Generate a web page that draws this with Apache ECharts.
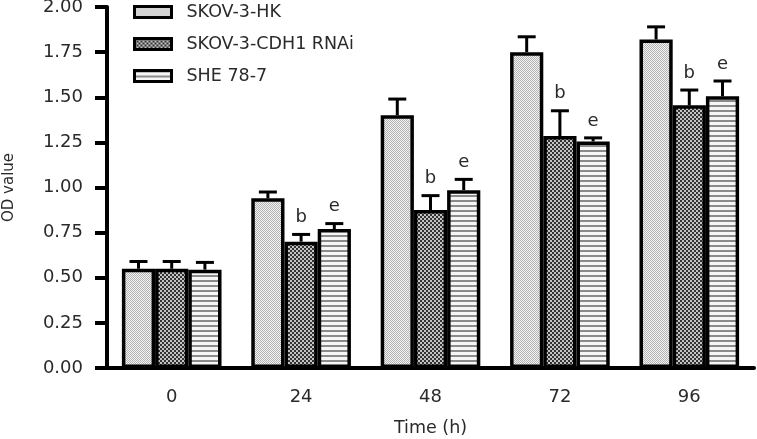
<!DOCTYPE html>
<html>
<head>
<meta charset="utf-8">
<script src="https://cdn.jsdelivr.net/npm/echarts@6/dist/echarts.min.js"></script>
<style>html,body{margin:0;padding:0;background:#fff}#c{width:757px;height:439px}</style>
</head>
<body>
<div id="c"></div>
<script>
const categories = ['0', '24', '48', '72', '96'];
const seriesNames = ['SKOV-3-HK', 'SKOV-3-CDH1 RNAi', 'SHE 78-7'];
const hkValues = [0.55, 0.94, 1.40, 1.75, 1.82];
const hkErrors = [0.04, 0.035, 0.09, 0.085, 0.07];
const cdh1Values = [0.55, 0.70, 0.875, 1.285, 1.455];
const cdh1Errors = [0.04, 0.04, 0.08, 0.14, 0.085];
const sheValues = [0.545, 0.77, 0.985, 1.255, 1.505];
const sheErrors = [0.04, 0.03, 0.06, 0.02, 0.085];
const hkMarks = ['', '', '', '', ''];
const cdh1Marks = ['', 'b', 'b', 'b', 'b'];
const sheMarks = ['', 'e', 'e', 'e', 'e'];

const FONT = '"DejaVu Sans", "Liberation Sans", sans-serif';
const TXT = '#2a2a2a';
const GAP = 0.23;

function makePattern(w, h, draw) {
  const c = document.createElement('canvas');
  c.width = w; c.height = h;
  const ctx = c.getContext('2d');
  draw(ctx);
  return { image: c, repeat: 'repeat' };
}
const pat1 = makePattern(2, 2, ctx => {
  ctx.fillStyle = '#f2f2f2'; ctx.fillRect(0, 0, 2, 2);
  ctx.fillStyle = '#b4b4b4'; ctx.fillRect(0, 0, 1, 1); ctx.fillRect(1, 1, 1, 1);
});
const pat2 = makePattern(4, 4, ctx => {
  ctx.fillStyle = '#c4c4c4'; ctx.fillRect(0, 0, 4, 4);
  ctx.fillStyle = '#333'; ctx.fillRect(0, 0, 2, 2); ctx.fillRect(2, 2, 2, 2);
});
const pat3 = makePattern(4, 5, ctx => {
  ctx.fillStyle = '#f6f6f6'; ctx.fillRect(0, 0, 4, 5);
  ctx.fillStyle = '#8a8a8a'; ctx.fillRect(0, 0, 4, 2);
});
const patterns = [pat1, pat2, pat3];

function barSeries(idx, values) {
  return {
    name: seriesNames[idx], type: 'bar', data: values,
    barGap: '0%', barCategoryGap: (GAP * 100) + '%',
    itemStyle: { color: patterns[idx], borderColor: '#000', borderWidth: 3.5 },
    z: 2
  };
}

function errSeries(idx, values, errors, marks) {
  return {
    type: 'custom', name: 'err' + idx, z: 5,
    data: values.map((v, i) => [i, v, errors[i]]),
    encode: { x: 0, y: 1 },
    renderItem: function (params, api) {
      const ci = api.value(0), v = api.value(1), e = api.value(2);
      const base = api.coord([ci, v]);
      const top = api.coord([ci, v + e]);
      const band = api.size([1, 0])[0];
      const bw = band * (1 - GAP) / 3;
      const x = base[0] + (idx - 1) * bw;
      const st = { stroke: '#000', lineWidth: 3 };
      const children = [
        { type: 'line', shape: { x1: x, y1: base[1], x2: x, y2: top[1] }, style: st },
        { type: 'line', shape: { x1: x - 9, y1: top[1], x2: x + 9, y2: top[1] }, style: st }
      ];
      const m = marks[params.dataIndex];
      if (m) {
        children.push({ type: 'text', x: x, y: top[1] - 17,
          style: { text: m, fill: TXT, font: '18px ' + FONT, align: 'center', verticalAlign: 'middle' } });
      }
      return { type: 'group', children: children };
    }
  };
}

const chart = echarts.init(document.getElementById('c'), null, { renderer: 'canvas' });
chart.setOption({
  animation: false,
  backgroundColor: '#fff',
  textStyle: { fontFamily: FONT },
  grid: { left: 107, right: 3, top: 7, bottom: 71, containLabel: false, outerBoundsMode: 'none' },
  legend: {
    data: seriesNames, orient: 'vertical', left: 128, top: -2,
    icon: 'rect',
    itemWidth: 37, itemHeight: 11, itemGap: 14,
    itemStyle: { borderColor: '#000', borderWidth: 3 },
    textStyle: { fontFamily: FONT, fontSize: 17.5, color: TXT, lineHeight: 16, padding: [0, 0, 0, 10] }
  },
  xAxis: {
    type: 'category', data: categories,
    name: 'Time (h)', nameLocation: 'middle', nameGap: 51,
    nameTextStyle: { fontFamily: FONT, fontSize: 17.5, color: TXT },
    axisLine: { lineStyle: { color: '#000', width: 4 } },
    axisTick: { alignWithLabel: true, length: 11, lineStyle: { color: '#000', width: 4 } },
    axisLabel: { margin: 20, fontFamily: FONT, fontSize: 18, color: TXT }
  },
  yAxis: {
    type: 'value', min: 0, max: 2, interval: 0.25,
    name: 'OD value', nameLocation: 'middle', nameGap: 90,
    nameTextStyle: { fontFamily: FONT, fontSize: 15, color: TXT },
    axisLine: { show: true, lineStyle: { color: '#000', width: 4 } },
    axisTick: { show: true, length: 12, lineStyle: { color: '#000', width: 4 } },
    splitLine: { show: false },
    axisLabel: { margin: 24, fontFamily: FONT, fontSize: 18, color: TXT, formatter: v => v.toFixed(2) }
  },
  series: [
    barSeries(0, hkValues), barSeries(1, cdh1Values), barSeries(2, sheValues),
    errSeries(0, hkValues, hkErrors, hkMarks),
    errSeries(1, cdh1Values, cdh1Errors, cdh1Marks),
    errSeries(2, sheValues, sheErrors, sheMarks)
  ]
});
</script>
</body>
</html>
